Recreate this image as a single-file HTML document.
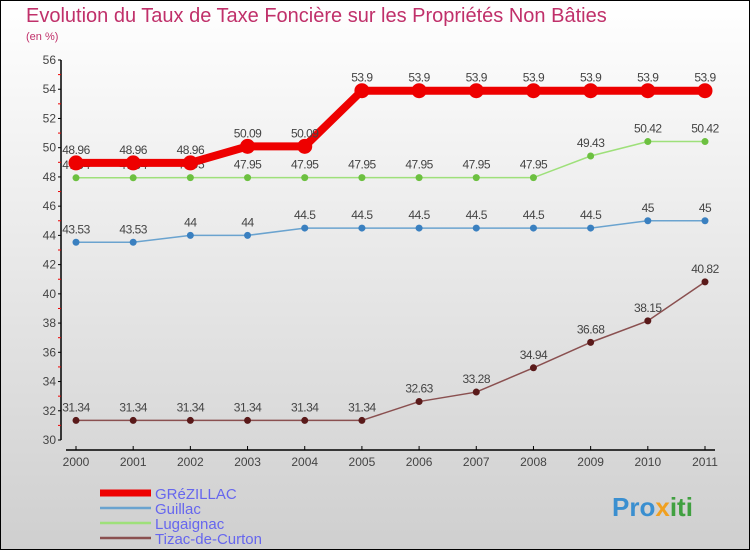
<!DOCTYPE html>
<html><head><meta charset="utf-8"><style>
body{margin:0}
#c{width:750px;height:550px;position:relative;box-sizing:border-box;border:1px solid #000;background:linear-gradient(#ffffff,#cfcfcf);overflow:hidden;font-family:"Liberation Sans",sans-serif}
</style></head><body>
<div id="c">
<svg id="s" width="750" height="550" style="position:absolute;left:-1px;top:-1px">
<text x="26" y="22" font-size="20" fill="#c0306a">Evolution du Taux de Taxe Foncière sur les Propriétés Non Bâties</text>
<text x="26" y="40" font-size="11" fill="#c0306a">(en %)</text>
<g id="g"></g>
<text x="612" y="516" font-size="26" font-weight="bold" fill="#3a8fd0">Pro<tspan fill="#f0a020">x</tspan><tspan fill="#40a040">iti</tspan></text>
</svg>
</div>
<script>
const years=[2000,2001,2002,2003,2004,2005,2006,2007,2008,2009,2010,2011];
const yTicks=[30,32,34,36,38,40,42,44,46,48,50,52,54,56];
const seriesNames=["GRéZILLAC","Guillac","Lugaignac","Tizac-de-Curton"];
const grezillac=[48.96,48.96,48.96,50.09,50.09,53.9,53.9,53.9,53.9,53.9,53.9,53.9];
const guillac=[43.53,43.53,44,44,44.5,44.5,44.5,44.5,44.5,44.5,45,45];
const lugaignac=[47.94,47.94,47.95,47.95,47.95,47.95,47.95,47.95,47.95,49.43,50.42,50.42];
const tizac=[31.34,31.34,31.34,31.34,31.34,31.34,32.63,33.28,34.94,36.68,38.15,40.82];
const NS="http://www.w3.org/2000/svg";
const g=document.getElementById('g');
const X=i=>76+i*(705-76)/(years.length-1);
const Y=v=>440-(v-30)*(380/26);
function el(t,a,p){const e=document.createElementNS(NS,t);for(const k in a)e.setAttribute(k,a[k]);(p||g).appendChild(e);return e;}
let ax=el('line',{x1:61,y1:60,x2:61,y2:440,stroke:'#000','stroke-width':1.5});


yTicks.forEach(v=>{
 el('line',{x1:58,x2:61,y1:Y(v),y2:Y(v),stroke:'#000'});
 if(v<56) el('line',{x1:58,x2:61,y1:Y(v+1),y2:Y(v+1),stroke:'#e00'});
 const t=el('text',{x:56,y:Y(v)+4,'text-anchor':'end','font-size':12,fill:'#444'});
 t.textContent=v;
 
 
});
let xa=el('line',{x1:66,y1:450,x2:715,y2:450,stroke:'#000','stroke-width':1.5});


years.forEach((y,i)=>{
 el('line',{x1:X(i),x2:X(i),y1:446,y2:450,stroke:'#000'});
 const t=el('text',{x:X(i),y:466,'text-anchor':'middle','font-size':12,fill:'#444'});
 t.textContent=y;
 
 
});
const cfg=[[grezillac,'#ee0000',8,7.5,'grezillac'],[guillac,'#6aa3cf',1.5,3.5,'guillac'],[lugaignac,'#9ee07a',1.5,3.5,'lugaignac'],[tizac,'#8a5050',1.5,3.5,'tizac']];
const dotc=['#ee0000','#3a80c0','#6cc040','#5a1a1a'];
[cfg[3],cfg[1],cfg[2],cfg[0]].forEach(c=>{
 const [d,col,w,r,n]=c;const k=cfg.indexOf(c);
 const p=el('polyline',{points:d.map((v,i)=>X(i)+','+Y(v)).join(' '),fill:'none',stroke:col,'stroke-width':w});
 
 
 d.forEach((v,i)=>{
  const cc=el('circle',{cx:X(i),cy:Y(v),r:r,fill:dotc[k]});
  
  
  const t=el('text',{x:X(i),y:Y(v)-9,'text-anchor':'middle','font-size':12,fill:'#444','letter-spacing':'-0.5'});
  t.textContent=v;
  
  
 });
});
seriesNames.forEach((s,i)=>{
 const y=493+i*15;
 const l=el('line',{x1:100,x2:151,y1:y,y2:y,stroke:cfg[i][1],'stroke-width':i==0?7:2.5});
 
 
 const t=el('text',{x:155,y:y+6,'font-size':15,fill:'#6666ee'});
 t.textContent=s;
 
 
});
</script>
</body></html>
